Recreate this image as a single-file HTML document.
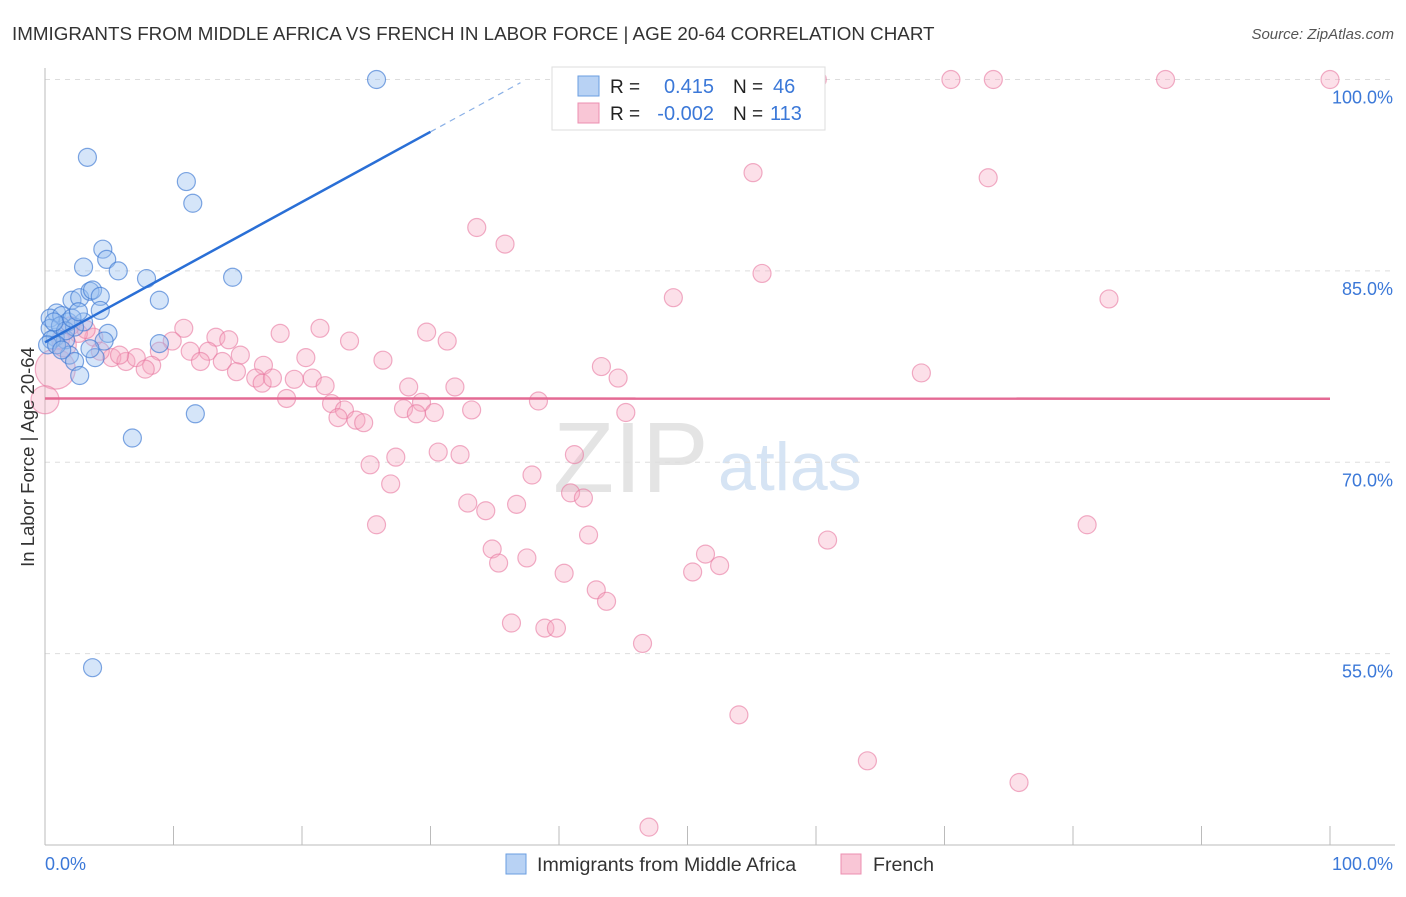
<!DOCTYPE html>
<html><head><meta charset="utf-8"><style>
body{margin:0;background:#fff;font-family:"Liberation Sans",sans-serif}
svg text{font-family:"Liberation Sans",sans-serif}
</style></head><body>
<svg id="chart" width="1406" height="892" xmlns="http://www.w3.org/2000/svg">
<text x="12" y="40" font-size="18.8" fill="#333">IMMIGRANTS FROM MIDDLE AFRICA VS FRENCH IN LABOR FORCE | AGE 20-64 CORRELATION CHART</text>
<text x="1394" y="39" font-size="15" fill="#555" text-anchor="end" font-style="italic">Source: ZipAtlas.com</text>
<text x="553" y="492" font-size="100" fill="#e4e4e4" font-family="Liberation Serif">ZIP</text>
<text x="718" y="490" font-size="68" fill="#d6e4f4">atlas</text>
<g id="grid"></g><g id="axes"></g><g id="pts"></g><g id="lines"></g>
<text transform="translate(34,457) rotate(-90)" font-size="18.5" fill="#333" text-anchor="middle">In Labor Force | Age 20-64</text>
<text x="45" y="870" font-size="18" fill="#3b78d8">0.0%</text>
<text x="1393" y="870" font-size="18" fill="#3b78d8" text-anchor="end">100.0%</text>
<g>
<rect x="552" y="67" width="273" height="63" fill="#fff" stroke="#ddd"/>
<rect x="578" y="76" width="21" height="20" fill="#b8d2f4" stroke="#6a9ee0"/>
<rect x="578" y="103" width="21" height="20" fill="#f9c6d6" stroke="#ec8fb0"/>
<text x="610" y="93" font-size="19" fill="#222">R =</text><text x="714" y="93" font-size="20" fill="#3b78d8" text-anchor="end">0.415</text>
<text x="733" y="93" font-size="19" fill="#222">N =</text><text x="773" y="93" font-size="20" fill="#3b78d8">46</text>
<text x="610" y="120" font-size="19" fill="#222">R =</text><text x="714" y="120" font-size="20" fill="#3b78d8" text-anchor="end">-0.002</text>
<text x="733" y="120" font-size="19" fill="#222">N =</text><text x="770" y="120" font-size="20" fill="#3b78d8">113</text>
</g>
<g>
<rect x="506" y="854" width="20" height="20" fill="#b8d2f4" stroke="#6a9ee0"/>
<text x="537" y="871" font-size="19.6" fill="#333">Immigrants from Middle Africa</text>
<rect x="841" y="854" width="20" height="20" fill="#f9c6d6" stroke="#ec8fb0"/>
<text x="873" y="871" font-size="19.6" fill="#333">French</text>
</g>
</svg>
<script>
const yTicks=[100,85,70,55];
const yTickLabels=["100.0%","85.0%","70.0%","55.0%"];
const xTicks=[0,10,20,30,40,50,60,70,80,90,100];
const blueX=[25.8,3.3,11.0,11.5,4.5,4.8,3.0,5.7,7.9,14.6,2.1,2.7,3.5,3.7,4.3,8.9,4.3,0.9,0.4,1.3,1.8,3.0,4.9,0.8,0.4,1.6,4.6,8.9,1.9,3.9,2.3,2.7,11.7,6.8,3.7,0.5,1.2,0.2,2.3,1.6,0.9,2.1,1.3,3.5,2.6,0.7];
const blueY=[100,93.9,92.0,90.3,86.7,85.9,85.3,85.0,84.4,84.5,82.7,82.9,83.4,83.5,83.0,82.7,81.9,81.7,81.3,81.5,81.0,81.0,80.1,79.8,80.5,79.6,79.5,79.3,78.4,78.2,77.9,76.8,73.8,71.9,53.9,79.6,80.7,79.2,80.6,80.3,79.2,81.3,78.8,78.9,81.8,81.0];
const pinkX=[46.5,60.1,70.5,73.8,87.2,100,50.2,55.1,73.4,33.6,35.8,55.8,48.9,82.8,21.4,29.7,10.8,18.3,13.3,23.7,31.3,14.3,9.9,3.8,2.6,2.0,8.9,11.3,12.7,15.2,20.3,26.3,5.2,6.3,7.1,12.1,13.8,8.3,7.8,4.3,5.8,17.0,14.9,16.4,16.9,17.7,19.4,20.8,21.8,43.3,44.6,68.2,28.3,31.9,18.8,22.3,23.3,27.9,29.3,33.2,38.4,28.9,30.3,45.2,22.8,24.2,24.8,30.6,32.3,41.2,27.3,25.3,37.9,26.9,40.9,41.9,32.9,34.3,36.7,25.8,81.1,42.3,60.9,34.8,37.5,35.3,51.4,52.5,50.4,40.4,42.9,43.7,36.3,38.9,39.8,46.5,54.0,64.0,75.8,47.0,0.8,0,1.5,3.2,1.2];
const pinkY=[100,100,100,100,100,100,97.4,92.7,92.3,88.4,87.1,84.8,82.9,82.8,80.5,80.2,80.5,80.1,79.8,79.5,79.5,79.6,79.5,79.8,80.1,80.7,78.7,78.7,78.7,78.4,78.2,78.0,78.2,77.9,78.2,77.9,77.9,77.6,77.3,78.7,78.4,77.6,77.1,76.6,76.2,76.6,76.5,76.6,76.0,77.5,76.6,77.0,75.9,75.9,75.0,74.6,74.1,74.2,74.7,74.1,74.8,73.8,73.9,73.9,73.5,73.3,73.1,70.8,70.6,70.6,70.4,69.8,69.0,68.3,67.6,67.2,66.8,66.2,66.7,65.1,65.1,64.3,63.9,63.2,62.5,62.1,62.8,61.9,61.4,61.3,60.0,59.1,57.4,57.0,57.0,55.8,50.2,46.6,44.9,41.4,77.3,74.9,79.2,80.4,79.6];
const pinkR=pinkX.map((_,i)=>i>=pinkX.length-5?[20,14,12,9,9][i-(pinkX.length-5)]:9);
const blueTrend=[79.4,0.55];
const pinkTrend=[75.0,-0.0002];
const NS="http://www.w3.org/2000/svg";
const X=v=>45+v*12.85, Y=v=>845-(v-40)*12.758;
function mk(tag,attrs,parent){const e=document.createElementNS(NS,tag);for(const k in attrs)e.setAttribute(k,attrs[k]);document.getElementById(parent).appendChild(e);return e;}
yTicks.forEach((t,i)=>{
  const g=mk('line',{x1:45,x2:1395,y1:Y(t),y2:Y(t),stroke:'#ddd','stroke-dasharray':'5,5'},'grid');
  
  
  const l=mk('text',{x:1393,y:Y(t)+24,'font-size':18,fill:'#3b78d8','text-anchor':'end'},'grid');
  l.textContent=yTickLabels[i];
  
  
});
const ya=mk('line',{x1:45,x2:45,y1:68,y2:845,stroke:'#bbb'},'axes');


const xa=mk('line',{x1:45,x2:1395,y1:845,y2:845,stroke:'#bbb'},'axes');


xTicks.forEach(t=>{
  const k=mk('line',{x1:X(t),x2:X(t),y1:826,y2:845,stroke:'#bbb'},'axes');
  
  
});
pinkX.forEach((v,i)=>{
  const c=mk('circle',{cx:X(v),cy:Y(pinkY[i]),r:pinkR[i],fill:'rgba(246,166,192,0.35)',stroke:'rgba(232,120,160,0.6)','stroke-width':1.2},'pts');
  
  
});
blueX.forEach((v,i)=>{
  const c=mk('circle',{cx:X(v),cy:Y(blueY[i]),r:9,fill:'rgba(150,190,240,0.4)',stroke:'rgba(60,120,210,0.65)','stroke-width':1.2},'pts');
  
  
});
const bl=mk('line',{x1:X(0),y1:Y(blueTrend[0]),x2:X(30),y2:Y(blueTrend[0]+blueTrend[1]*30),stroke:'#2a6fd6','stroke-width':2.5},'lines');


const bd=mk('line',{x1:X(30),y1:Y(blueTrend[0]+blueTrend[1]*30),x2:X(37),y2:Y(blueTrend[0]+blueTrend[1]*37),stroke:'#8ab0e6','stroke-width':1.2,'stroke-dasharray':'6,5'},'lines');


const pl=mk('line',{x1:X(0),y1:Y(pinkTrend[0]),x2:X(100),y2:Y(pinkTrend[0]+pinkTrend[1]*100),stroke:'#e46a94','stroke-width':2.5},'lines');


</script>
</body></html>
